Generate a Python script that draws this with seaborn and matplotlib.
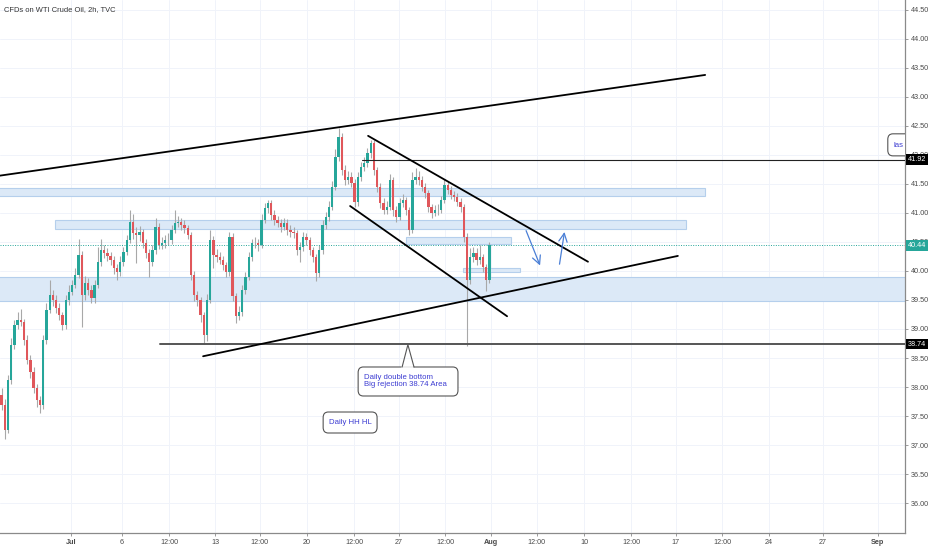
import numpy as np
import pandas as pd
import matplotlib
matplotlib.use("Agg")
import matplotlib.pyplot as plt
import seaborn as sns
from matplotlib.patches import Rectangle, FancyBboxPatch

# ================= DATA (one candle every 2 bars) =================
opens = [37.86, 37.69, 37.26, 38.12, 38.72, 39.07, 39.15, 39.12, 38.81, 38.47,
         38.26, 37.98, 37.78, 37.69, 38.81, 39.33, 39.59, 39.50, 39.36, 39.24,
         39.07, 39.50, 39.64, 39.76, 39.93, 40.28, 39.59, 39.79, 39.67, 39.53,
         39.76, 40.15, 40.36, 40.31, 40.26, 40.19, 40.05, 39.98, 40.15, 40.33,
         40.53, 40.84, 40.65, 40.62, 40.67, 40.48, 40.31, 40.15, 40.36, 40.76,
         40.45, 40.48, 40.53, 40.53, 40.71, 40.83, 40.84, 40.79, 40.74, 40.62,
         39.93, 39.59, 39.50, 39.24, 38.90, 39.50, 40.53, 40.28, 40.24, 40.19,
         40.10, 39.98, 40.59, 39.57, 39.22, 39.29, 39.67, 39.90, 40.24, 40.48,
         40.48, 40.45, 40.88, 41.09, 41.17, 40.97, 40.88, 40.83, 40.76, 40.83,
         40.71, 40.67, 40.65, 40.36, 40.41, 40.59, 40.53, 40.36, 40.24, 39.97,
         40.36, 40.79, 40.93, 41.10, 41.45, 41.97, 42.31, 41.74, 41.57, 41.62,
         41.52, 41.19, 41.62, 41.79, 41.86, 42.03, 42.21, 41.74, 41.45, 41.17,
         41.05, 41.10, 41.57, 41.05, 40.93, 41.17, 41.22, 41.05, 40.71, 41.57,
         41.62, 41.57, 41.45, 41.34, 41.10, 41.00, 41.05, 41.05, 41.22, 41.48,
         41.40, 41.31, 41.28, 41.19, 41.10, 40.59, 39.84, 40.24, 40.31, 40.19,
         40.24, 40.07, 39.84]
highs = [37.98, 37.80, 38.20, 38.85, 39.15, 39.30, 39.35, 39.18, 38.90, 38.55,
         38.35, 38.05, 37.85, 38.90, 39.45, 39.85, 39.68, 39.58, 39.45, 39.30,
         39.58, 39.75, 39.85, 40.05, 40.55, 40.35, 39.92, 39.88, 39.75, 39.85,
         40.42, 40.55, 40.45, 40.40, 40.33, 40.25, 40.12, 40.25, 40.42, 40.62,
         41.05, 40.98, 40.75, 40.78, 40.72, 40.55, 40.38, 40.45, 40.92, 40.82,
         40.58, 40.62, 40.65, 40.80, 41.05, 40.95, 40.92, 40.88, 40.80, 40.68,
         40.00, 39.65, 39.55, 39.30, 39.60, 40.70, 40.60, 40.38, 40.32, 40.26,
         40.16, 40.68, 40.65, 39.62, 39.40, 39.75, 39.98, 40.32, 40.55, 40.58,
         40.55, 40.98, 41.18, 41.23, 41.22, 41.05, 40.95, 40.90, 40.92, 40.90,
         40.80, 40.75, 40.70, 40.50, 40.68, 40.66, 40.58, 40.42, 40.30, 40.45,
         40.88, 41.02, 41.20, 41.55, 42.10, 42.46, 42.38, 41.82, 41.72, 41.70,
         41.58, 41.70, 41.88, 41.96, 42.12, 42.26, 42.25, 41.80, 41.52, 41.25,
         41.20, 41.68, 41.62, 41.12, 41.25, 41.32, 41.28, 41.10, 41.70, 41.78,
         41.72, 41.63, 41.52, 41.40, 41.16, 41.14, 41.15, 41.30, 41.58, 41.55,
         41.46, 41.38, 41.34, 41.25, 41.15, 40.65, 40.40, 40.42, 40.40, 40.45,
         40.30, 40.12, 40.50]
lows = [37.60, 37.10, 37.20, 38.05, 38.65, 39.00, 39.05, 38.72, 38.40, 38.15,
        37.90, 37.65, 37.55, 37.62, 38.75, 39.28, 39.40, 39.28, 39.15, 38.98,
        39.00, 39.42, 39.58, 39.70, 39.88, 39.03, 39.50, 39.58, 39.45, 39.45,
        39.70, 40.08, 40.22, 40.18, 40.10, 39.95, 39.85, 39.92, 40.08, 40.27,
        40.48, 40.55, 40.14, 40.52, 40.40, 40.22, 39.90, 40.08, 40.30, 40.38,
        40.38, 40.40, 40.45, 40.47, 40.65, 40.75, 40.70, 40.66, 40.55, 39.85,
        39.48, 39.40, 39.12, 38.74, 38.80, 39.45, 40.05, 40.15, 40.12, 40.02,
        39.90, 39.92, 39.48, 39.10, 39.15, 39.22, 39.60, 39.85, 40.18, 40.40,
        40.35, 40.40, 40.82, 41.00, 40.88, 40.80, 40.75, 40.68, 40.70, 40.62,
        40.58, 40.57, 40.28, 40.15, 40.35, 40.45, 40.28, 40.15, 39.82, 39.90,
        40.30, 40.72, 40.86, 41.05, 41.40, 41.90, 41.65, 41.48, 41.50, 41.44,
        41.10, 41.12, 41.55, 41.72, 41.80, 41.95, 41.65, 41.36, 41.08, 40.98,
        40.98, 41.05, 40.95, 40.85, 40.88, 41.10, 40.96, 40.62, 40.65, 41.50,
        41.48, 41.38, 41.25, 41.02, 40.92, 40.95, 40.96, 41.00, 41.18, 41.32,
        41.24, 41.20, 41.12, 41.02, 40.50, 38.70, 39.78, 40.15, 40.10, 40.12,
        39.98, 39.65, 39.80]
closes = [37.69, 37.26, 38.12, 38.72, 39.07, 39.15, 39.12, 38.81, 38.47, 38.26,
          37.98, 37.78, 37.69, 38.81, 39.33, 39.59, 39.50, 39.36, 39.24, 39.07,
          39.50, 39.64, 39.76, 39.93, 40.28, 39.59, 39.79, 39.67, 39.53, 39.76,
          40.15, 40.36, 40.31, 40.26, 40.19, 40.05, 39.98, 40.15, 40.33, 40.53,
          40.84, 40.65, 40.62, 40.67, 40.48, 40.31, 40.15, 40.36, 40.76, 40.45,
          40.48, 40.53, 40.53, 40.71, 40.83, 40.84, 40.79, 40.74, 40.62, 39.93,
          39.59, 39.50, 39.24, 38.90, 39.50, 40.53, 40.28, 40.24, 40.19, 40.10,
          39.98, 40.59, 39.57, 39.22, 39.29, 39.67, 39.90, 40.24, 40.48, 40.48,
          40.45, 40.88, 41.09, 41.17, 40.97, 40.88, 40.83, 40.76, 40.83, 40.71,
          40.67, 40.65, 40.36, 40.41, 40.59, 40.53, 40.36, 40.24, 39.97, 40.36,
          40.79, 40.93, 41.10, 41.45, 41.97, 42.31, 41.74, 41.57, 41.62, 41.52,
          41.19, 41.62, 41.79, 41.86, 42.03, 42.21, 41.74, 41.45, 41.17, 41.05,
          41.10, 41.57, 41.05, 40.93, 41.17, 41.22, 41.05, 40.71, 41.57, 41.62,
          41.57, 41.45, 41.34, 41.10, 41.00, 41.05, 41.05, 41.22, 41.48, 41.40,
          41.31, 41.28, 41.19, 41.10, 40.59, 39.84, 40.24, 40.31, 40.19, 40.24,
          40.07, 39.84, 40.44]

# x axis (bar index) labels
tick_bars = [21.6, 37.5, 52.2, 66.5, 80.5, 95.2, 109.8, 123.8, 138.2, 152.5,
             166.8, 181.5, 196.1, 210.1, 224.5, 239.1, 255.9, 273.0]
tick_labels = ['Jul', '6', '12:00', '13', '12:00', '20', '12:00', '27', '12:00', 'Aug',
               '12:00', '10', '12:00', '17', '12:00', '24', '27', 'Sep']
price_ticks = np.arange(36.0, 44.51, 0.5)

# drawings: trend lines (bar, price) -> (bar, price)
trend_x0 = [-1.0, 114.2, 108.6, 62.8]
trend_p0 = [41.64, 42.33, 41.12, 38.53]
trend_x1 = [219.2, 182.7, 157.5, 210.7]
trend_p1 = [43.38, 40.16, 39.22, 40.26]

# supply / demand zones
zone_x0 = [-1.0, 16.7, 126.0, 143.8, -1.0]
zone_x1 = [219.2, 213.2, 158.7, 161.5, 290.0]
zone_lo = [41.29, 40.72, 40.47, 39.98, 39.48]
zone_hi = [41.43, 40.88, 40.59, 40.05, 39.90]

# horizontal levels
level_price = [41.92, 38.74]
level_start = [112.3, 49.4]

# projection arrows
arrow_x0 = [163.1, 173.7]
arrow_p0 = [40.74, 40.07]
arrow_x1 = [168.1, 175.5]
arrow_p1 = [40.05, 40.72]

# ================= PLOT =================
df = pd.DataFrame({'open': opens, 'high': highs, 'low': lows, 'close': closes})
df['bar'] = np.arange(len(df))
df['up'] = df['close'] >= df['open']

sns.set_theme(style='white')
plt.rcParams['font.family'] = ['Liberation Sans', 'DejaVu Sans']

fig = plt.figure(figsize=(9.32, 5.5), dpi=100)
ax = fig.add_axes([0, 17 / 550, 905 / 932, 533 / 550])

XMIN, XMAX = -0.47, 281.46
YMIN, YMAX = 35.483, 44.672
ax.set_xlim(XMIN, XMAX)
ax.set_ylim(YMIN, YMAX)

# grid
for t in tick_bars:
    ax.axvline(t, color='#f0f3fa', lw=0.7, zorder=0)
for p in price_ticks:
    ax.axhline(p, color='#f0f3fa', lw=0.7, zorder=0)

# zones
for x0, x1, lo, hi in zip(zone_x0, zone_x1, zone_lo, zone_hi):
    ax.add_patch(Rectangle((x0, lo), x1 - x0, hi - lo, facecolor='#dce9f7',
                           edgecolor='#b5cfec', lw=0.8, zorder=1))

# candles
ax.vlines(df['bar'], df['low'], df['high'], color='#a8a8a8', lw=0.8, zorder=2)
body = (df['close'] - df['open'])
body = body.where(body.abs() >= 0.01, 0.01)
cols = np.where(df['up'], '#26a69a', '#e0575b')
ax.bar(df['bar'], body, bottom=df['open'], width=0.72, color=cols, lw=0, zorder=3)

# current price line
last = closes[-1]
ax.axhline(last, color='#26a69a', lw=0.7, ls=(0, (1, 1.5)), zorder=2)

# horizontal levels
ax.plot([level_start[0], XMAX], [level_price[0]] * 2, color='#222222', lw=0.8, zorder=4)
ax.plot([level_start[1], XMAX], [level_price[1]] * 2, color='#555555', lw=1.4, zorder=4)

# trend lines
for x0, p0, x1, p1 in zip(trend_x0, trend_p0, trend_x1, trend_p1):
    ax.plot([x0, x1], [p0, p1], color='black', lw=1.3, zorder=5, solid_capstyle='round')

# arrows
for x0, p0, x1, p1 in zip(arrow_x0, arrow_p0, arrow_x1, arrow_p1):
    ax.annotate('', xy=(x1, p1), xytext=(x0, p0),
                arrowprops=dict(arrowstyle='->,head_length=0.5,head_width=0.25',
                                color='#4a7fd6', lw=0.9), zorder=6)

# callouts
txt_col = '#3c3cd2'
box = FancyBboxPatch((111.1, 37.845), 31.1, 0.50, boxstyle='round,pad=0,rounding_size=1.6',
                     mutation_aspect=0.06, facecolor='white', edgecolor='#555555', lw=0.8, zorder=6)
ax.add_patch(box)
ax.plot([124.9, 128.3], [38.345, 38.345], color='white', lw=1.2, zorder=7)
ax.plot([124.8, 126.6, 128.5], [38.345, 38.73, 38.345], color='#555555', lw=0.8, zorder=7)
ax.text(112.9, 38.095, 'Daily double bottom\nBig rejection 38.74 Area', color=txt_col,
        fontsize=5.6, va='center', ha='left', linespacing=1.0, zorder=8)

box2 = FancyBboxPatch((100.2, 37.207), 16.8, 0.362, boxstyle='round,pad=0,rounding_size=1.6',
                      mutation_aspect=0.06, facecolor='white', edgecolor='#555555', lw=0.8, zorder=6)
ax.add_patch(box2)
ax.text(102.0, 37.39, 'Daily HH HL', color=txt_col, fontsize=5.6, va='center', ha='left', zorder=8)

box3 = FancyBboxPatch((276.1, 41.985), 14.0, 0.38, boxstyle='round,pad=0,rounding_size=1.6',
                      mutation_aspect=0.06, facecolor='white', edgecolor='#555555', lw=0.8, zorder=6)
ax.add_patch(box3)
ax.text(277.8, 42.17, 'las', color=txt_col, fontsize=5.6, va='center', ha='left', zorder=8)

# axes styling
sns.despine(ax=ax, left=True, top=True, right=False, bottom=False)
for s in ['right', 'bottom']:
    ax.spines[s].set_color('#8a8a8a')
    ax.spines[s].set_linewidth(0.9)
ax.yaxis.tick_right()
ax.set_yticks(price_ticks)
ax.set_yticklabels([f'{p:.2f}' for p in price_ticks])
ax.set_xticks(tick_bars)
ax.set_xticklabels(tick_labels)
for lab in ax.get_xticklabels():
    if lab.get_text() in ('Jul', 'Aug', 'Sep'):
        lab.set_fontweight('bold')
ax.tick_params(axis='both', which='both', length=2, width=0.6, color='#8a8a8a',
               labelsize=5.2, labelcolor='#4a4a4a', pad=2)
ax.tick_params(axis='y', right=True, left=False)
ax.tick_params(axis='x', bottom=True)

# price labels on the scale (drawn over the regular tick labels, as on the platform)
for p, fc in [(41.92, 'black'), (38.74, 'black'), (last, '#26a69a')]:
    ax.text(1.003, p, f'{p:.2f}', transform=ax.get_yaxis_transform(), va='center', ha='left',
            fontsize=5.2, color='white', clip_on=False, zorder=10,
            bbox=dict(boxstyle='square,pad=0.25', fc=fc, ec='none'))

fig.text(4 / 932, 1 - 10 / 550, 'CFDs on WTI Crude Oil, 2h, TVC', fontsize=5.4,
         color='#333333', va='center', ha='left')

fig.savefig('out.png', dpi=100, facecolor='white')
